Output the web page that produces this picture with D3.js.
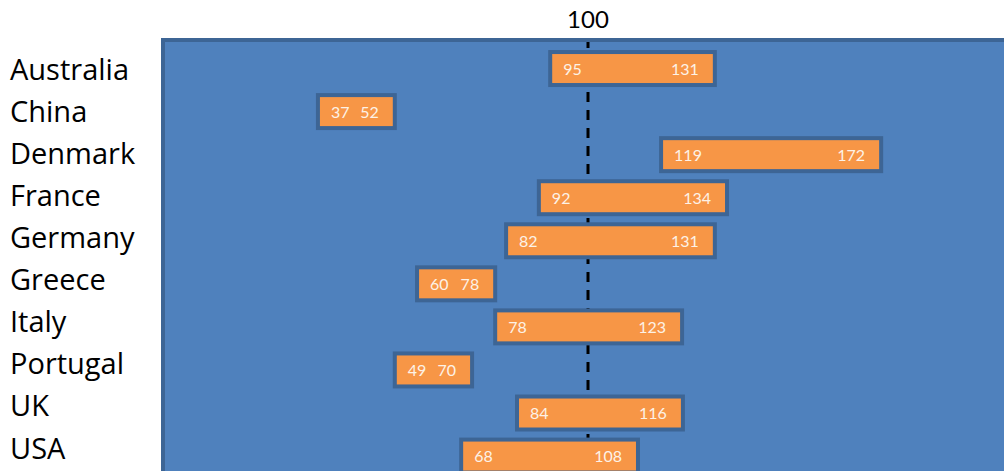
<!DOCTYPE html>
<html>
<head>
<meta charset="utf-8">
<script src="https://cdn.jsdelivr.net/npm/d3@7"></script>
<style>
  body { margin: 0; background: #fff; }
  text { font-family: Lato, "Open Sans", sans-serif; }
  text.cat { font-family: "Open Sans", sans-serif; }
</style>
</head>
<body>
<div id="chart"></div>
<script>
// countries, top to bottom
var countries = ["Australia", "China", "Denmark", "France", "Germany", "Greece", "Italy", "Portugal", "UK", "USA"];
// values printed in the bars
var lowValues  = [95, 37, 119, 92, 82, 60, 78, 49, 84, 68];
var highValues = [131, 52, 172, 134, 131, 78, 123, 70, 116, 108];
// bar extents as drawn in the picture (axis units)
var barStart = [91, 35.7, 117.4, 88.3, 80.5, 59.3, 77.9, 54, 83.1, 69.8];
var barEnd   = [130.2, 54, 169.8, 133.1, 130.2, 77.9, 122.4, 72.4, 122.6, 111.9];
var refValue = 100;

var width = 1004, height = 471;

var svg = d3.select('#chart')
    .append('svg')
    .attr('width', width)
    .attr('height', height);

var x = d3.scaleLinear()
    .domain([0, 200])
    .range([588 - 420, 588 + 420]);

var y = d3.scaleBand()
    .domain(countries)
    .range([47, 477.6])
    .paddingInner(0.234)
    .paddingOuter(0.117);

var yLabel = d3.scalePoint()
    .domain(countries)
    .range([69.5, 448.5]);

// plot panel
svg.append('rect')
    .attr('x', 163)
    .attr('y', 40)
    .attr('width', 900)
    .attr('height', 500)
    .attr('fill', '#4f81bd')
    .attr('stroke', '#3d6595')
    .attr('stroke-width', 4);

// reference line at 100
svg.append('line')
    .attr('x1', x(refValue)).attr('x2', x(refValue))
    .attr('y1', 42).attr('y2', height)
    .attr('stroke', '#000')
    .attr('stroke-width', 3)
    .attr('stroke-dasharray', '10,8')
    .attr('stroke-dashoffset', 4);

svg.append('text')
    .attr('x', x(refValue))
    .attr('y', 28)
    .attr('text-anchor', 'middle')
    .attr('font-size', 24)
    .attr('fill', '#000')
    .text(refValue);

var rows = countries.map(function(c, i) {
  return {name: c, lo: lowValues[i], hi: highValues[i], s: barStart[i], e: barEnd[i]};
});

var g = svg.selectAll('.bar')
    .data(rows)
    .enter().append('g')
    .attr('class', 'bar');

g.append('rect')
    .attr('x', function(d){ return x(d.s); })
    .attr('y', function(d){ return y(d.name); })
    .attr('width', function(d){ return x(d.e) - x(d.s); })
    .attr('height', y.bandwidth())
    .attr('fill', '#f79646')
    .attr('stroke', '#3d6595')
    .attr('stroke-width', 4);

g.append('text')
    .attr('x', function(d){ return x(d.s) + 13; })
    .attr('y', function(d){ return y(d.name) + y.bandwidth() / 2 + 6; })
    .attr('font-size', 16)
    .attr('fill', '#fdf2e6')
    .text(function(d){ return d.lo; });

g.append('text')
    .attr('x', function(d){ return x(d.e) - 16; })
    .attr('y', function(d){ return y(d.name) + y.bandwidth() / 2 + 6; })
    .attr('text-anchor', 'end')
    .attr('font-size', 16)
    .attr('fill', '#fdf2e6')
    .text(function(d){ return d.hi; });

// category labels
svg.selectAll('.cat')
    .data(countries)
    .enter().append('text')
    .attr('class', 'cat')
    .attr('x', 10)
    .attr('y', function(d){ return yLabel(d) + 10; })
    .attr('font-size', 29)
    .attr('fill', '#000')
    .text(function(d){ return d; });
</script>
</body>
</html>
